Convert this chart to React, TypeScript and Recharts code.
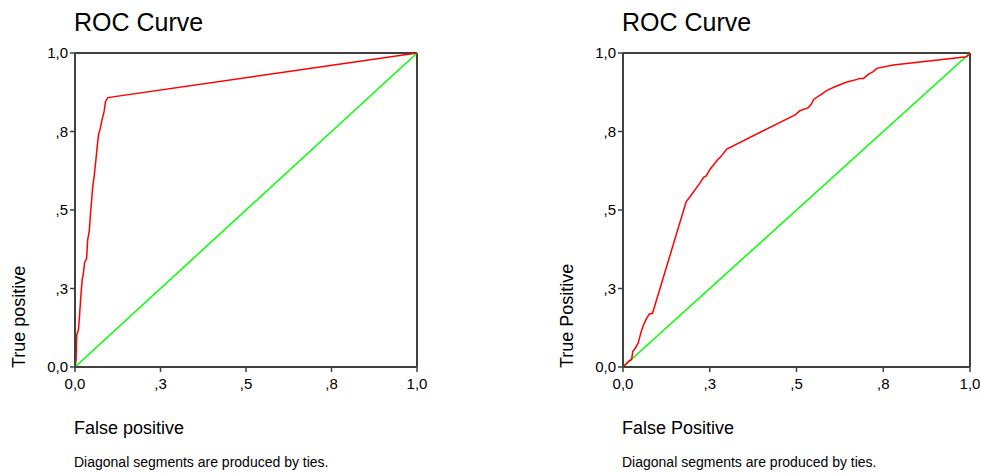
import React from 'react';
import { LineChart, Line, XAxis, YAxis, ReferenceLine } from 'recharts';

const ticks = [0, 0.25, 0.5, 0.75, 1];
const tickLabels = ['0,0', ',3', ',5', ',8', '1,0'];
const diagonal = [0, 1];

// left model: steep staircase, then one long tie segment up to (1,1)
const leftFpr = [0, 0.003, 0.005, 0.01, 0.013, 0.017, 0.021, 0.024, 0.028, 0.034, 0.037, 0.042, 0.045, 0.049, 0.052, 0.057, 0.061, 0.065, 0.069, 0.073, 0.079, 0.085, 0.089, 0.096, 1];
const leftTpr = [0, 0.022, 0.102, 0.118, 0.16, 0.224, 0.279, 0.293, 0.332, 0.346, 0.404, 0.436, 0.484, 0.537, 0.574, 0.617, 0.659, 0.702, 0.742, 0.755, 0.787, 0.813, 0.845, 0.858, 1];

// right model
const rightFpr = [0, 0.018, 0.025, 0.028, 0.035, 0.044, 0.051, 0.059, 0.068, 0.076, 0.085, 0.182, 0.193, 0.22, 0.232, 0.239, 0.251, 0.272, 0.282, 0.299, 0.496, 0.51, 0.534, 0.541, 0.55, 0.568, 0.589, 0.616, 0.643, 0.675, 0.681, 0.693, 0.707, 0.721, 0.731, 0.779, 0.99, 1];
const rightTpr = [0, 0.02, 0.024, 0.049, 0.059, 0.077, 0.107, 0.134, 0.155, 0.169, 0.171, 0.526, 0.542, 0.583, 0.604, 0.608, 0.63, 0.659, 0.67, 0.694, 0.803, 0.816, 0.826, 0.834, 0.853, 0.866, 0.882, 0.895, 0.907, 0.916, 0.919, 0.919, 0.932, 0.941, 0.951, 0.962, 0.988, 1];

const font = '"Liberation Sans", Arial, sans-serif';
const axisColor = '#404040';
const H = 474;
const plotTop = 53;
const plotBottom = 367;

interface PanelProps {
  x: number;
  width: number;
  plotLeft: number;
  plotRight: number;
  fpr: number[];
  tpr: number[];
  xTitle: string;
  yTitle: string;
}

const fmt = (v: number) => tickLabels[ticks.indexOf(v)] ?? '';

const RocPanel: React.FC<PanelProps> = ({ x, width, plotLeft, plotRight, fpr, tpr, xTitle, yTitle }) => {
  const curve = fpr.map((f, i) => ({ x: f, y: tpr[i] }));
  const diag = diagonal.map((v) => ({ x: v, y: v }));
  const yAxisW = 40;
  const tickStyle = { fill: '#000', fontSize: 15, fontFamily: font };

  return (
    <div style={{ position: 'absolute', left: x, top: 0, width, height: H }}>
      <LineChart
        width={width}
        height={H}
        margin={{ top: plotTop, right: width - plotRight, left: plotLeft - yAxisW, bottom: H - plotBottom - 30 }}
      >
        <XAxis
          type="number"
          dataKey="x"
          domain={[0, 1]}
          ticks={ticks}
          tickFormatter={fmt}
          height={30}
          tick={tickStyle}
          tickSize={5}
          tickMargin={6}
          axisLine={{ stroke: axisColor, strokeWidth: 2 }}
          tickLine={{ stroke: axisColor, strokeWidth: 1.5 }}
        />
        <YAxis
          type="number"
          dataKey="y"
          domain={[0, 1]}
          ticks={ticks}
          tickFormatter={fmt}
          width={yAxisW}
          tick={tickStyle}
          tickSize={5}
          tickMargin={2}
          axisLine={{ stroke: axisColor, strokeWidth: 2 }}
          tickLine={{ stroke: axisColor, strokeWidth: 1.5 }}
        />
        <ReferenceLine y={1} stroke={axisColor} strokeWidth={2} />
        <ReferenceLine x={1} stroke={axisColor} strokeWidth={2} />
        <Line data={diag} dataKey="y" stroke="#00ff00" strokeWidth={1.5} dot={false} isAnimationActive={false} />
        <Line data={curve} dataKey="y" stroke="#ff0000" strokeWidth={1.5} dot={false} isAnimationActive={false} />
      </LineChart>
      <svg width={width} height={H} style={{ position: 'absolute', left: 0, top: 0, pointerEvents: 'none' }}>
        <text x={plotLeft - 1} y={31} fontSize={25} fontFamily={font} fill="#000">ROC Curve</text>
        <text x={plotLeft - 1} y={434} fontSize={18} fontFamily={font} fill="#000">{xTitle}</text>
        <text x={plotLeft - 1} y={467} fontSize={14} fontFamily={font} fill="#000">Diagonal segments are produced by ties.</text>
        <text
          x={plotLeft - 50}
          y={plotBottom + 1}
          fontSize={18}
          fontFamily={font}
          fill="#000"
          transform={`rotate(-90, ${plotLeft - 50}, ${plotBottom + 1})`}
        >
          {yTitle}
        </text>
      </svg>
    </div>
  );
};

const App: React.FC = () => (
  <div style={{ position: 'absolute', left: 0, top: 0, width: 981, height: H, background: '#fff' }}>
    <RocPanel x={0} width={490} plotLeft={75} plotRight={417} fpr={leftFpr} tpr={leftTpr} xTitle="False positive" yTitle="True positive" />
    <RocPanel x={490} width={491} plotLeft={133} plotRight={480} fpr={rightFpr} tpr={rightTpr} xTitle="False Positive" yTitle="True Positive" />
  </div>
);

export default App;
